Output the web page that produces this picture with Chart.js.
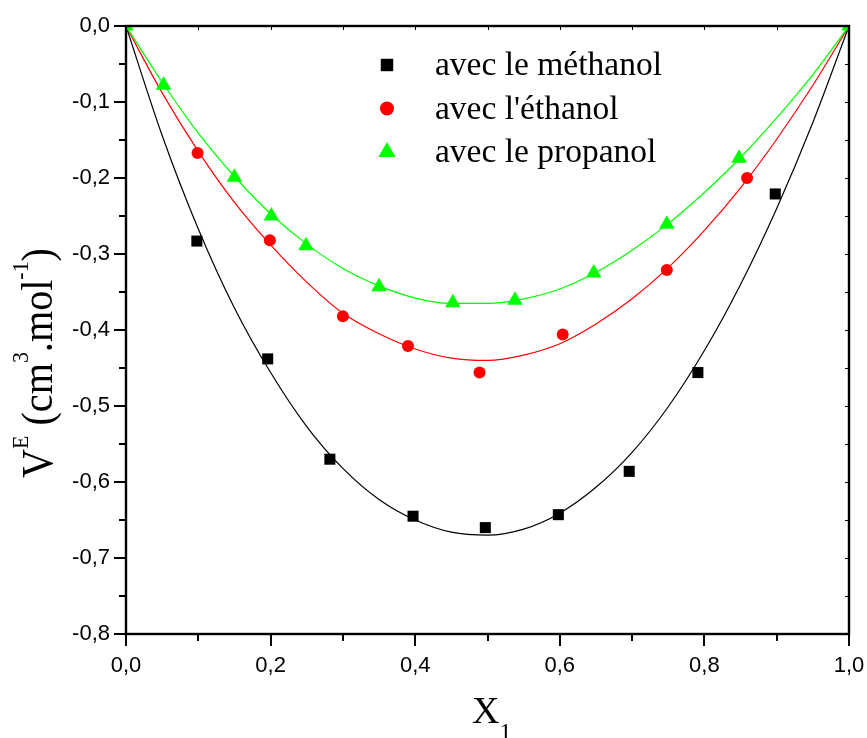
<!DOCTYPE html>
<html>
<head>
<meta charset="utf-8">
<script src="https://cdn.jsdelivr.net/npm/chart.js@4.4.1/dist/chart.umd.min.js"></script>
<style>
  html, body { margin: 0; padding: 0; background: #fff; }
  canvas { display: block; }
</style>
</head>
<body>
<canvas id="chart" width="867" height="738"></canvas>
<script>
// measured excess volumes
const methanolX = [0.098, 0.196, 0.282, 0.397, 0.497, 0.598, 0.696, 0.791, 0.898];
const methanolY = [-0.283, -0.438, -0.570, -0.645, -0.660, -0.643, -0.586, -0.456, -0.221];
const ethanolX = [0.099, 0.199, 0.300, 0.390, 0.489, 0.604, 0.748, 0.859];
const ethanolY = [-0.167, -0.282, -0.382, -0.421, -0.456, -0.406, -0.321, -0.200];
const propanolX = [0, 0.052, 0.150, 0.201, 0.249, 0.350, 0.452, 0.538, 0.647, 0.748, 0.848, 1];
const propanolY = [0, -0.078, -0.199, -0.250, -0.289, -0.343, -0.364, -0.361, -0.325, -0.261, -0.174, 0];

// fitted curves, sampled every 0.05
const fitX = [0, 0.05, 0.1, 0.15, 0.2, 0.25, 0.3, 0.35, 0.4, 0.45, 0.5, 0.55, 0.6, 0.65, 0.7, 0.75, 0.8, 0.85, 0.9, 0.95, 1];
const methanolFit = [0, -0.144, -0.267, -0.371, -0.456, -0.527, -0.582, -0.623, -0.650, -0.666, -0.670, -0.662, -0.641, -0.607, -0.561, -0.501, -0.427, -0.340, -0.240, -0.127, 0];
const ethanolFit = [0, -0.088, -0.165, -0.232, -0.288, -0.337, -0.378, -0.405, -0.425, -0.437, -0.440, -0.433, -0.418, -0.392, -0.359, -0.318, -0.269, -0.213, -0.149, -0.078, 0];
const propanolFit = [0, -0.074, -0.141, -0.198, -0.247, -0.287, -0.319, -0.342, -0.358, -0.365, -0.365, -0.359, -0.346, -0.324, -0.295, -0.260, -0.219, -0.173, -0.121, -0.064, 0];

const legendLabels = ['avec le méthanol', "avec l'éthanol", 'avec le propanol'];

const xLabelTicks = [0, 0.2, 0.4, 0.6, 0.8, 1.0];
const yLabelTicks = [0, -0.1, -0.2, -0.3, -0.4, -0.5, -0.6, -0.7, -0.8];

const SANS = '"Liberation Sans", Arial, sans-serif';
const SERIF = '"Liberation Serif", "Times New Roman", serif';

const zip = (xs, ys) => xs.map((x, i) => ({ x, y: ys[i] }));
const comma = (v) => Number(v).toFixed(1).replace('.', ',');

function points (label, xs, ys, color, style, radius, order) {
  return {
    label,
    data: zip(xs, ys),
    showLine: false,
    pointStyle: style,
    pointRadius: radius,
    pointBackgroundColor: color,
    pointBorderWidth: 0,
    order,
    clip: 0,
  };
}

function curve (ys, color, order) {
  return {
    data: zip(fitX, ys),
    showLine: true,
    borderColor: color,
    borderWidth: 1.2,
    pointRadius: 0,
    cubicInterpolationMode: 'monotone',
    order,
  };
}

function drawRich (ctx, parts, size, supSize, raise) {
  // draws text runs left to right from the current origin, superscripts raised
  let x = 0;
  for (const p of parts) {
    if (p.sup) {
      ctx.font = `${supSize}px ${SERIF}`;
      ctx.fillText(p.t, x, -raise);
    }
    else if (p.sub) {
      ctx.font = `${supSize}px ${SERIF}`;
      ctx.fillText(p.t, x, raise * 0.65);
    }
    else {
      ctx.font = `${size}px ${SERIF}`;
      ctx.fillText(p.t, x, 0);
    }
    x += ctx.measureText(p.t).width;
  }
  return x;
}

function richWidth (ctx, parts, size, supSize) {
  let w = 0;
  for (const p of parts) {
    ctx.font = `${(p.sup || p.sub) ? supSize : size}px ${SERIF}`;
    w += ctx.measureText(p.t).width;
  }
  return w;
}

const decorations = {
  id: 'decorations',
  afterDraw (chart) {
    const { ctx, chartArea: a, scales: { x, y } } = chart;
    ctx.save();
    ctx.strokeStyle = '#000';
    ctx.fillStyle = '#000';

    // small inward ticks on the top and right edges
    ctx.lineWidth = 1;
    ctx.beginPath();
    for (let i = 1; i < 10; i++) {
      const px = Math.round(x.getPixelForValue(i / 10)) + 0.5;
      ctx.moveTo(px, a.top);
      ctx.lineTo(px, a.top + 4);
    }
    for (let i = 1; i < 16; i++) {
      const py = Math.round(y.getPixelForValue(-i * 0.05)) + 0.5;
      ctx.moveTo(a.right, py);
      ctx.lineTo(a.right - 4, py);
    }
    ctx.stroke();

    // outward major / minor ticks on left and bottom
    ctx.lineWidth = 2;
    ctx.beginPath();
    for (let i = 0; i <= 10; i++) {
      const px = Math.round(x.getPixelForValue(i / 10));
      const len = i % 2 === 0 ? 12 : 7;
      ctx.moveTo(px, a.bottom);
      ctx.lineTo(px, a.bottom + len);
    }
    for (let i = 0; i <= 16; i++) {
      const py = Math.round(y.getPixelForValue(-i * 0.05));
      const len = i % 2 === 0 ? 12 : 7;
      ctx.moveTo(a.left, py);
      ctx.lineTo(a.left - len, py);
    }
    ctx.stroke();

    // frame
    ctx.lineWidth = 2.4;
    ctx.strokeRect(a.left, a.top, a.right - a.left, a.bottom - a.top);

    // x title
    ctx.textBaseline = 'alphabetic';
    ctx.textAlign = 'left';
    const xParts = [{ t: 'X' }, { t: '1', sub: true }];
    ctx.save();
    ctx.translate(472, 723);
    drawRich(ctx, xParts, 38, 24, 24);
    ctx.restore();

    // y title, rotated, condensed along its length
    const yParts = [
      { t: 'V' }, { t: 'E', sup: true }, { t: ' (cm' }, { t: '3', sup: true },
      { t: '.mol' }, { t: '-1', sup: true }, { t: ')' },
    ];
    const w = richWidth(ctx, yParts, 44, 24);
    ctx.save();
    ctx.translate(52, 478);
    ctx.rotate(-Math.PI / 2);
    ctx.scale(230 / w, 1);
    drawRich(ctx, yParts, 44, 24, 24);
    ctx.restore();

    // legend
    const series = chart.data.datasets.filter((d) => d.label);
    series.forEach((d, i) => {
      const base = 75 + i * 43.5;
      ctx.fillStyle = d.pointBackgroundColor;
      Chart.helpers.drawPoint(ctx, {
        pointStyle: d.pointStyle,
        radius: d.pointRadius + 1,
        rotation: 0,
        borderWidth: 0,
      }, 387, base - 10);
      ctx.fillStyle = '#000';
      ctx.font = `33.5px ${SERIF}`;
      ctx.fillText(d.label, 435, base);
    });

    ctx.restore();
  },
};

new Chart(document.getElementById('chart'), {
  type: 'scatter',
  data: {
    datasets: [
      points(legendLabels[0], methanolX, methanolY, '#000000', 'rect', 7.8, 3),
      points(legendLabels[1], ethanolX, ethanolY, '#ff0000', 'circle', 6, 2),
      points(legendLabels[2], propanolX, propanolY, '#00ff00', 'triangle', 9, 1),
      curve(methanolFit, '#000000', 6),
      curve(ethanolFit, '#ff0000', 5),
      curve(propanolFit, '#00ff00', 4),
    ],
  },
  options: {
    responsive: false,
    animation: false,
    events: [],
    layout: {
      padding: { top: 26, right: 18, left: 0, bottom: 0 },
    },
    plugins: {
      legend: { display: false },
      tooltip: { enabled: false },
    },
    scales: {
      x: {
        type: 'linear',
        min: 0,
        max: 1,
        grid: { display: false, drawTicks: false },
        border: { display: false },
        afterBuildTicks: (scale) => {
          scale.ticks = xLabelTicks.map((value) => ({ value }));
        },
        afterFit: (scale) => {
          scale.height = 104;
          scale.paddingLeft = 0;
          scale.paddingRight = 0;
        },
        ticks: {
          autoSkip: false,
          maxRotation: 0,
          padding: 19,
          color: '#000',
          font: { family: SANS, size: 22 },
          callback: (v) => comma(v),
        },
      },
      y: {
        type: 'linear',
        min: -0.8,
        max: 0,
        grid: { display: false, drawTicks: false },
        border: { display: false },
        afterBuildTicks: (scale) => {
          scale.ticks = yLabelTicks.map((value) => ({ value }));
        },
        afterFit: (scale) => {
          scale.width = 126;
          scale.paddingTop = 0;
          scale.paddingBottom = 0;
        },
        ticks: {
          autoSkip: false,
          padding: 16,
          color: '#000',
          font: { family: SANS, size: 22 },
          callback: (v) => comma(v),
        },
      },
    },
  },
  plugins: [decorations],
});
</script>
</body>
</html>
